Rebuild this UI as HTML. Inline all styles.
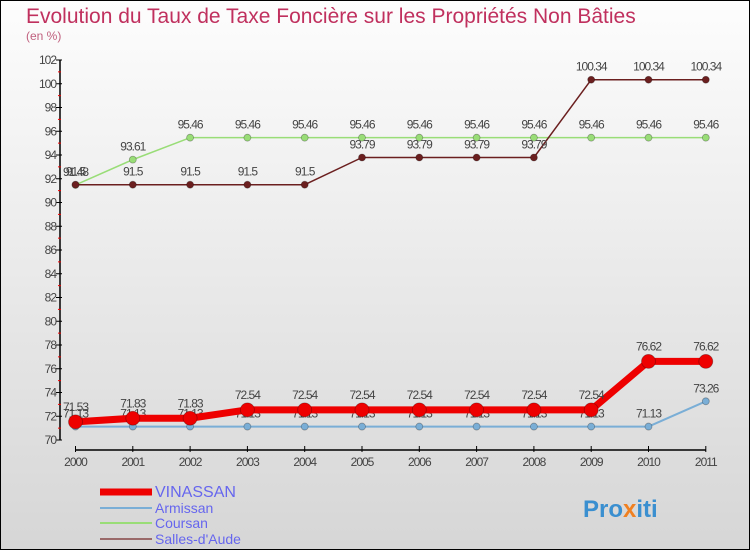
<!DOCTYPE html>
<html><head><meta charset="utf-8"><style>
body{margin:0;width:750px;height:550px;overflow:hidden;font-family:"Liberation Sans",sans-serif}
</style></head><body>
<svg width="750" height="550" xmlns="http://www.w3.org/2000/svg">
<defs><linearGradient id="bg" x1="0" y1="0" x2="0" y2="1"><stop offset="0" stop-color="#fdfdfd"/><stop offset="1" stop-color="#d6d6d6"/></linearGradient></defs>
<rect x="0.5" y="0.5" width="749" height="549" fill="url(#bg)" stroke="#000"/>
<text x="26" y="23" font-size="21" fill="#c0305e">Evolution du Taux de Taxe Foncière sur les Propriétés Non Bâties</text>
<text x="26" y="40" font-size="12" fill="#c0607e">(en %)</text>
<g id="axes"></g>
<g id="series"></g>
<g id="legend"></g>
<text x="583" y="517" font-size="24" font-weight="bold" fill="#3a8fd0">Pro<tspan fill="#f08020">x</tspan>iti</text>
</svg>
<script>
const years=["2000","2001","2002","2003","2004","2005","2006","2007","2008","2009","2010","2011"];
const yTicks=[70,72,74,76,78,80,82,84,86,88,90,92,94,96,98,100,102];
const vinassan=[71.53,71.83,71.83,72.54,72.54,72.54,72.54,72.54,72.54,72.54,76.62,76.62];
const armissan=[71.13,71.13,71.13,71.13,71.13,71.13,71.13,71.13,71.13,71.13,71.13,73.26];
const coursan=[91.48,93.61,95.46,95.46,95.46,95.46,95.46,95.46,95.46,95.46,95.46,95.46];
const salles=[91.5,91.5,91.5,91.5,91.5,93.79,93.79,93.79,93.79,100.34,100.34,100.34];
const NS="http://www.w3.org/2000/svg";
const X=i=>75.5+i*57.3;
const Y=v=>440-(v-70)*11.875;
function mk(tag,attrs,parent,txt){const e=document.createElementNS(NS,tag);for(const k in attrs)e.setAttribute(k,attrs[k]);if(txt!==undefined)e.textContent=txt;parent.appendChild(e);return e;}
const ax=document.getElementById('axes');
let l=mk('line',{x1:60,y1:Y(102),x2:60,y2:Y(70),stroke:'#000','stroke-width':1.5},ax);


yTicks.forEach((v,k)=>{
 let t=mk('line',{x1:56,y1:Y(v),x2:62,y2:Y(v),stroke:'#000'},ax);
 
 
 if(k<yTicks.length-1){
  let m=mk('line',{x1:58,y1:Y(v+1),x2:61,y2:Y(v+1),stroke:'#e00'},ax);
  
  
 }
 let tx=mk('text',{x:56,y:Y(v)+4,'font-size':12,fill:'#444','text-anchor':'end','letter-spacing':'-1'},ax,v);
 
 
});
mk('line',{x1:X(0),y1:450,x2:X(11),y2:450,stroke:'#000','stroke-width':1.5},ax);
years.forEach((y,i)=>{
 let t=mk('line',{x1:X(i),y1:446,x2:X(i),y2:452,stroke:'#000'},ax);
 
 
 let tx=mk('text',{x:X(i),y:466,'font-size':12,fill:'#444','text-anchor':'middle','letter-spacing':'-1'},ax,y);
 
 
});
const sg=document.getElementById('series');
function series(vals,color,w,r,name,dy){
 const g=mk('g',{},sg);
 
 
 const pts=vals.map((v,i)=>X(i)+','+Y(v)).join(' ');
 mk('polyline',{points:pts,fill:'none',stroke:color,'stroke-width':w,'stroke-linejoin':'round'},g);
 vals.forEach((v,i)=>{
  let c=mk('circle',{cx:X(i),cy:Y(v),r:r,fill:color,stroke:'rgba(0,0,0,0.3)','stroke-width':0.8},g);
  
  
  let t=mk('text',{x:X(i),y:Y(v)+dy,'font-size':12,fill:'#444','text-anchor':'middle','letter-spacing':'-1'},g,v);
  
  
 });
}
series(armissan,'#7aaed6',2,3.5,'armissan',-9);
series(coursan,'#99dd77',1.5,3.5,'coursan',-9);
series(salles,'#6b1f1f',1.5,3.5,'salles-d-aude',-9);
series(vinassan,'#ee0000',7,7,'vinassan',-11);
const lg=document.getElementById('legend');
const items=[["VINASSAN","#ee0000",7,492,16],["Armissan","#7aaed6",2,508,14],["Coursan","#99dd77",2,523,14],["Salles-d'Aude","#9a6a6a",2,539,14]];
items.forEach(it=>{
 const g=mk('g',{},lg);
 
 
 mk('line',{x1:100,y1:it[3],x2:152,y2:it[3],stroke:it[1],'stroke-width':it[2]},g);
 mk('text',{x:155,y:it[3]+5,'font-size':it[4],fill:'#6666ee'},g,it[0]);
});
</script>
</body></html>
